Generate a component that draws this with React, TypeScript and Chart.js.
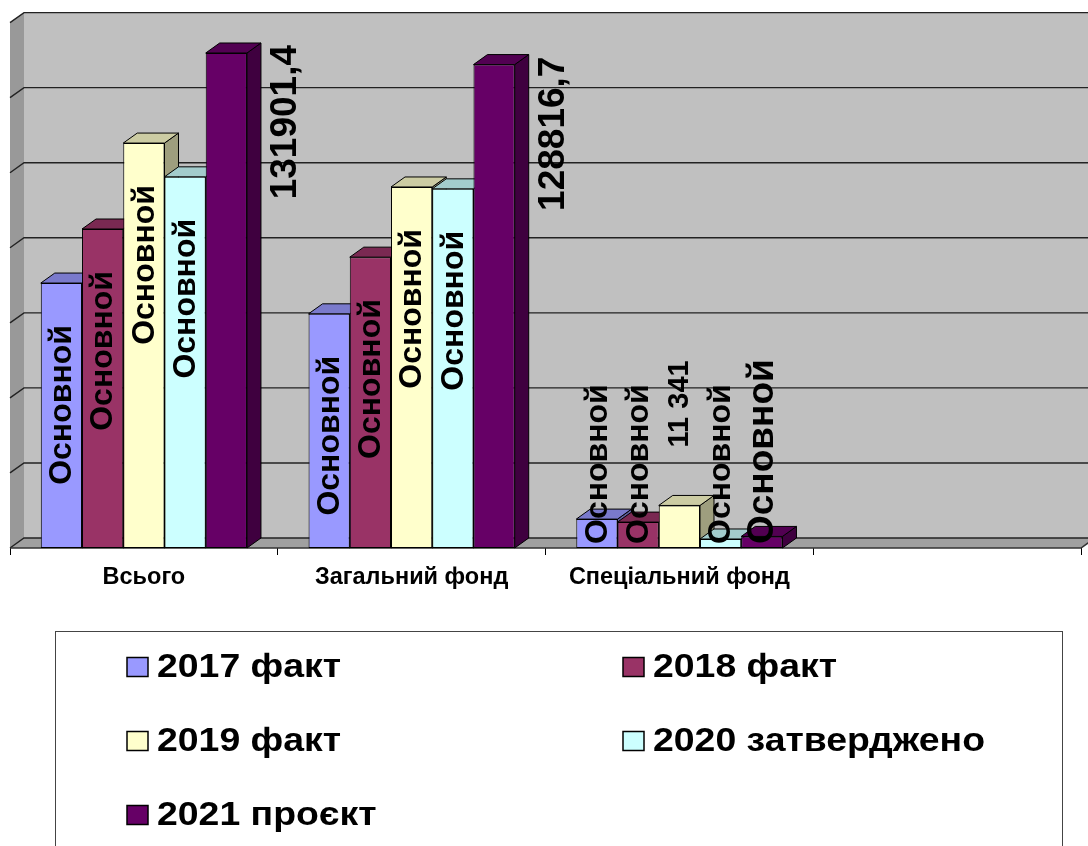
import React, { useEffect, useRef } from "react";
import { Chart, registerables } from "chart.js";

Chart.register(...registerables);

// ---- data ----
const categories = ["Всього", "Загальний фонд", "Спеціальний фонд", ""];
const seriesNames = ["2017 факт", "2018 факт", "2019 факт", "2020 затверджено", "2021 проєкт"];
const values2017 = [70600, 62400, 7700];
const values2018 = [85000, 77500, 6900];
const values2019 = [107900, 96200, 11341];
const values2020 = [98900, 95700, 2400];
const values2021 = [131901.4, 128816.7, 3084.7];
const labels2017 = ["Основной", "Основной", "Основной"];
const labels2018 = ["Основной", "Основной", "Основной"];
const labels2019 = ["Основной", "Основной", "11 341"];
const labels2020 = ["Основной", "Основной", "Основной"];
const labels2021 = ["131901,4", "128816,7", "Основной"];
const seriesColors = ["#9999FF", "#993366", "#FFFFCC", "#CCFFFF", "#660066"];
const yMax = 140000;
const yStep = 20000;

const FONT = "'Liberation Sans', Arial, Helvetica, sans-serif";
const DX = 14;
const DY = -10;

function shade(hex: string, f: number) {
  const n = parseInt(hex.slice(1), 16);
  const r = Math.round(((n >> 16) & 255) * f);
  const g = Math.round(((n >> 8) & 255) * f);
  const b = Math.round((n & 255) * f);
  return `rgb(${r},${g},${b})`;
}

function poly(ctx: CanvasRenderingContext2D, pts: number[][], fill: string | null, stroke: string | null, lw = 1) {
  ctx.beginPath();
  ctx.moveTo(pts[0][0], pts[0][1]);
  for (let i = 1; i < pts.length; i++) ctx.lineTo(pts[i][0], pts[i][1]);
  ctx.closePath();
  if (fill) {
    ctx.fillStyle = fill;
    ctx.fill();
  }
  if (stroke) {
    ctx.strokeStyle = stroke;
    ctx.lineWidth = lw;
    ctx.stroke();
  }
}

const wallsPlugin = {
  id: "walls3d",
  beforeDatasetsDraw(chart: any) {
    const { ctx, chartArea: ca, scales } = chart;
    const y = scales.y;
    const L = ca.left;
    const R = ca.right;
    const y0 = y.getPixelForValue(0);
    const yT = y.getPixelForValue(yMax);
    ctx.save();
    // back wall
    poly(ctx, [[L + DX, yT + DY], [R + DX, yT + DY], [R + DX, y0 + DY], [L + DX, y0 + DY]], "#c0c0c0", null);
    // left wall
    poly(ctx, [[L, yT], [L + DX, yT + DY], [L + DX, y0 + DY], [L, y0]], "#999999", null);
    // floor
    poly(ctx, [[L, y0], [L + DX, y0 + DY], [R + DX, y0 + DY], [R, y0]], "#a0a0a0", null);
    // gridlines
    for (let v = 0; v <= yMax; v += yStep) {
      const yy = y.getPixelForValue(v);
      ctx.beginPath();
      ctx.moveTo(L, yy);
      ctx.lineTo(L + DX, yy + DY);
      ctx.lineTo(R + DX, yy + DY);
      ctx.strokeStyle = "#222";
      ctx.lineWidth = 1.4;
      ctx.stroke();
    }
    // floor front edge
    ctx.beginPath();
    ctx.moveTo(L, y0);
    ctx.lineTo(R, y0);
    ctx.lineTo(R + DX, y0 + DY);
    ctx.strokeStyle = "#333";
    ctx.lineWidth = 1.5;
    ctx.stroke();

    // 3D faces of bars (top and right side)
    chart.data.datasets.forEach((ds: any, i: number) => {
      const meta = chart.getDatasetMeta(i);
      const c = ds.backgroundColor as string;
      meta.data.forEach((bar: any) => {
        const p = bar.getProps(["x", "y", "base", "width"], true);
        const l = p.x - p.width / 2;
        const r = p.x + p.width / 2;
        const top = p.y;
        const base = p.base;
        poly(ctx, [[r, top], [r + DX, top + DY], [r + DX, base + DY], [r, base]], shade(c, 0.62), "#000", 1);
        poly(ctx, [[l, top], [l + DX, top + DY], [r + DX, top + DY], [r, top]], shade(c, 0.8), "#000", 1);
      });
    });
    ctx.restore();
  },
};

const labelsPlugin = {
  id: "barLabels3d",
  afterDatasetsDraw(chart: any) {
    const { ctx } = chart;
    ctx.save();
    ctx.fillStyle = "#000";
    ctx.textAlign = "center";
    ctx.textBaseline = "middle";
    chart.data.datasets.forEach((ds: any, i: number) => {
      const meta = chart.getDatasetMeta(i);
      meta.data.forEach((bar: any, j: number) => {
        const text: string = ds.barLabels[j];
        if (!text) return;
        const numeric = /\d/.test(text);
        const size = i === 4 ? 37 : numeric ? 29 : 32;
        ctx.font = `bold ${size}px ${FONT}`;
        const len = ctx.measureText(text).width;
        const p = bar.getProps(["x", "y", "base", "width"], true);
        const h = p.base - p.y;
        let cx = p.x;
        let cy: number;
        if (!numeric) {
          cy = h > 150 ? p.y + 42 + len / 2 : p.base - 4 - len / 2;
        } else if (h > 150) {
          cx = p.x + p.width / 2 + 38;
          cy = p.y - 8 + len / 2;
        } else {
          cy = p.y - 58 - len / 2;
        }
        ctx.save();
        ctx.translate(cx, cy);
        ctx.rotate(-Math.PI / 2);
        ctx.fillText(text, 0, 1);
        ctx.restore();
      });
    });
    ctx.restore();
  },
};

const legendPlugin = {
  id: "boxLegend",
  afterDraw(chart: any) {
    const { ctx } = chart;
    ctx.save();
    ctx.strokeStyle = "#444";
    ctx.lineWidth = 1;
    ctx.strokeRect(55.5, 631.5, 1007, 240);
    const colX = [127, 623];
    const rowY0 = 667;
    const rowH = 74;
    ctx.font = `bold 34px ${FONT}`;
    ctx.textBaseline = "middle";
    ctx.textAlign = "left";
    chart.data.datasets.forEach((ds: any, i: number) => {
      const mx = colX[i % 2];
      const my = rowY0 + Math.floor(i / 2) * rowH;
      ctx.fillStyle = ds.backgroundColor;
      ctx.fillRect(mx, my - 9.5, 21, 19);
      ctx.strokeStyle = "#000";
      ctx.lineWidth = 1.5;
      ctx.strokeRect(mx, my - 9.5, 21, 19);
      ctx.save();
      ctx.translate(mx + 30, my + 1);
      ctx.scale(1.1, 1);
      ctx.fillStyle = "#000";
      ctx.fillText(ds.label, 0, 0);
      ctx.restore();
    });
    ctx.restore();
  },
};

export default function App() {
  const canvasRef = useRef<HTMLCanvasElement | null>(null);

  useEffect(() => {
    const canvas = canvasRef.current;
    if (!canvas) return;
    const valueSets = [values2017, values2018, values2019, values2020, values2021];
    const labelSets = [labels2017, labels2018, labels2019, labels2020, labels2021];
    const chart = new Chart(canvas, {
      type: "bar",
      data: {
        labels: categories,
        datasets: seriesNames.map((name, i) => ({
          label: name,
          data: valueSets[i],
          backgroundColor: seriesColors[i],
          borderColor: "#000",
          borderWidth: 1,
          borderSkipped: false,
          categoryPercentage: 0.77,
          barPercentage: 1,
          barLabels: labelSets[i],
        })) as any,
      },
      options: {
        responsive: false,
        devicePixelRatio: 1,
        animation: false,
        layout: { padding: { left: 10, right: 7, top: 22.6, bottom: 245.8 } },
        plugins: { legend: { display: false }, tooltip: { enabled: false } },
        scales: {
          x: {
            offset: true,
            grid: {
              display: true,
              drawOnChartArea: false,
              drawTicks: true,
              tickLength: 7,
              offset: true,
              color: "#000",
              lineWidth: 1,
            },
            border: { display: false },
            ticks: {
              color: "#000",
              padding: 8.5,
              maxRotation: 0,
              autoSkip: false,
              font: { family: FONT, size: 23.5, weight: "bold" },
            },
          },
          y: {
            display: false,
            min: 0,
            max: yMax,
            ticks: { stepSize: yStep },
          },
        },
      },
      plugins: [wallsPlugin, labelsPlugin, legendPlugin],
    });
    return () => chart.destroy();
  }, []);

  return (
    <div style={{ position: "fixed", left: 0, top: 0, width: 1088, height: 846, background: "#fff" }}>
      <canvas ref={canvasRef} width={1088} height={846} style={{ display: "block" }} />
    </div>
  );
}
